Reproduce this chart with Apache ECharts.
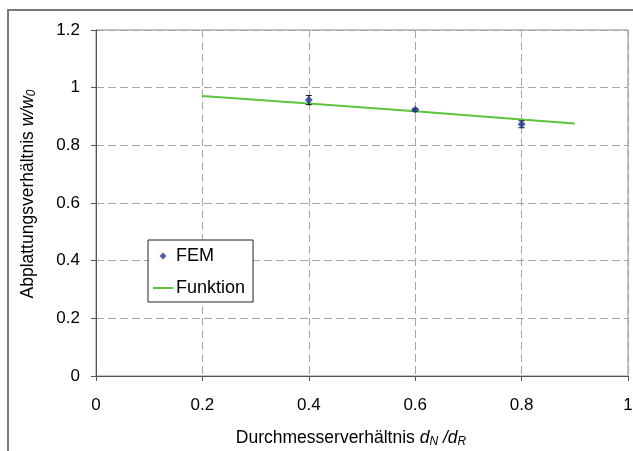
<!DOCTYPE html>
<html>
<head>
<meta charset="utf-8">
<script src="https://cdn.jsdelivr.net/npm/echarts@6/dist/echarts.min.js"></script>
<style>
  html, body { margin: 0; padding: 0; background: #fff; }
  #main { width: 633px; height: 451px; }
</style>
</head>
<body>
<div id="main"></div>
<script>
// FEM Werte
var femX = [0.4, 0.6, 0.8];
var femY = [0.957, 0.923, 0.873];
var femErr = [0.016, 0.004, 0.012];
// Funktion
var funkX = [0.2, 0.4, 0.6, 0.8, 0.9];
var funkY = [0.971, 0.945, 0.918, 0.890, 0.876];
// Achsenbeschriftung
var xTicks = ['0', '0.2', '0.4', '0.6', '0.8', '1'];
var yTicks = ['0', '0.2', '0.4', '0.6', '0.8', '1', '1.2'];

var font = 'Liberation Sans, Arial, sans-serif';

function pairs(xs, ys) {
  return xs.map(function (x, i) { return [x, ys[i]]; });
}

var titleRich = {
  n: { fontSize: 17.5, fontFamily: font, color: '#000' },
  i: { fontSize: 17.5, fontFamily: font, fontStyle: 'italic', color: '#000' },
  s: { fontSize: 12, fontFamily: font, fontStyle: 'italic', color: '#000', verticalAlign: 'bottom', padding: [7, 0, 0, 0] }
};

var chart = echarts.init(document.getElementById('main'));
var option = {
  animation: false,
  textStyle: { fontFamily: font },
  graphic: [{
    type: 'rect',
    shape: { x: 8, y: 10, width: 660, height: 480 },
    style: { fill: 'none', stroke: '#7a7a7a', lineWidth: 2 },
    silent: true
  }],
  grid: {
    left: 96, top: 30, right: 5, bottom: 75,
    outerBoundsMode: 'none',
    containLabel: false,
    show: true, borderColor: '#8a8a8a', borderWidth: 1
  },
  legend: {
    orient: 'vertical',
    left: 148, top: 240,
    padding: [7, 8, 5, 5],
    itemGap: 14,
    itemWidth: 20,
    itemHeight: 14,
    borderColor: '#222', borderWidth: 1,
    backgroundColor: '#fff',
    textStyle: { fontFamily: font, fontSize: 18, color: '#000', padding: [0, 0, 0, -2] },
    data: [
      { name: 'FEM', icon: 'path://M0,0M20,14M10,3.5L13.5,7L10,10.5L6.5,7Z' },
      { name: 'Funktion', icon: 'path://M0,0M20,14M0,6H20V8H0Z' }
    ]
  },
  xAxis: {
    type: 'value', min: 0, max: 1, interval: 0.2,
    name: '{n|Durchmesserverhältnis }{i|d}{s|N}{i| /d}{s|R}',
    nameLocation: 'middle', nameGap: 53,
    nameTextStyle: { rich: titleRich, padding: [0, 22, 0, 0] },
    axisLine: { onZero: false, lineStyle: { color: '#555' } },
    axisTick: { show: true, inside: false, length: 5, lineStyle: { color: '#555' } },
    axisLabel: {
      fontSize: 17, color: '#000', margin: 21,
      formatter: function (v) { return xTicks[Math.round(v / 0.2)]; }
    },
    splitLine: { show: true, lineStyle: { color: '#a6a6a6', type: [8, 4] } }
  },
  yAxis: {
    type: 'value', min: 0, max: 1.2, interval: 0.2,
    name: '{n|Abplattungsverhältnis }{i|w/w}{s|0}',
    nameLocation: 'middle', nameGap: 58,
    nameTextStyle: { rich: titleRich, padding: [0, 0, 0, 18] },
    axisLine: { show: true, onZero: false, lineStyle: { color: '#555' } },
    axisTick: { show: true, inside: false, length: 5, lineStyle: { color: '#555' } },
    axisLabel: {
      fontSize: 17, color: '#000', margin: 16,
      formatter: function (v) { return yTicks[Math.round(v / 0.2)]; }
    },
    splitLine: { show: true, lineStyle: { color: '#a6a6a6', type: [8, 4] } }
  },
  series: [
    {
      name: 'Funktion',
      type: 'line',
      data: pairs(funkX, funkY),
      symbol: 'none',
      lineStyle: { color: '#5cc43c', width: 2 },
      itemStyle: { color: '#5cc43c' },
      z: 2
    },
    {
      name: 'FEM-Fehler',
      type: 'custom',
      data: femX.map(function (x, i) { return [x, femY[i] - femErr[i], femY[i] + femErr[i]]; }),
      renderItem: function (params, api) {
        var lo = api.coord([api.value(0), api.value(1)]);
        var hi = api.coord([api.value(0), api.value(2)]);
        var w = 3;
        var st = { stroke: '#111', lineWidth: 1 };
        return {
          type: 'group',
          children: [
            { type: 'line', shape: { x1: lo[0], y1: lo[1], x2: hi[0], y2: hi[1] }, style: st },
            { type: 'line', shape: { x1: lo[0] - w, y1: lo[1], x2: lo[0] + w, y2: lo[1] }, style: st },
            { type: 'line', shape: { x1: hi[0] - w, y1: hi[1], x2: hi[0] + w, y2: hi[1] }, style: st }
          ]
        };
      },
      encode: { x: 0, y: [1, 2] },
      silent: true,
      z: 3
    },
    {
      name: 'FEM',
      type: 'scatter',
      data: pairs(femX, femY),
      symbol: 'diamond',
      symbolSize: 8,
      itemStyle: { color: '#23349a' },
      z: 4
    }
  ]
};
chart.setOption(option);
</script>
</body>
</html>
